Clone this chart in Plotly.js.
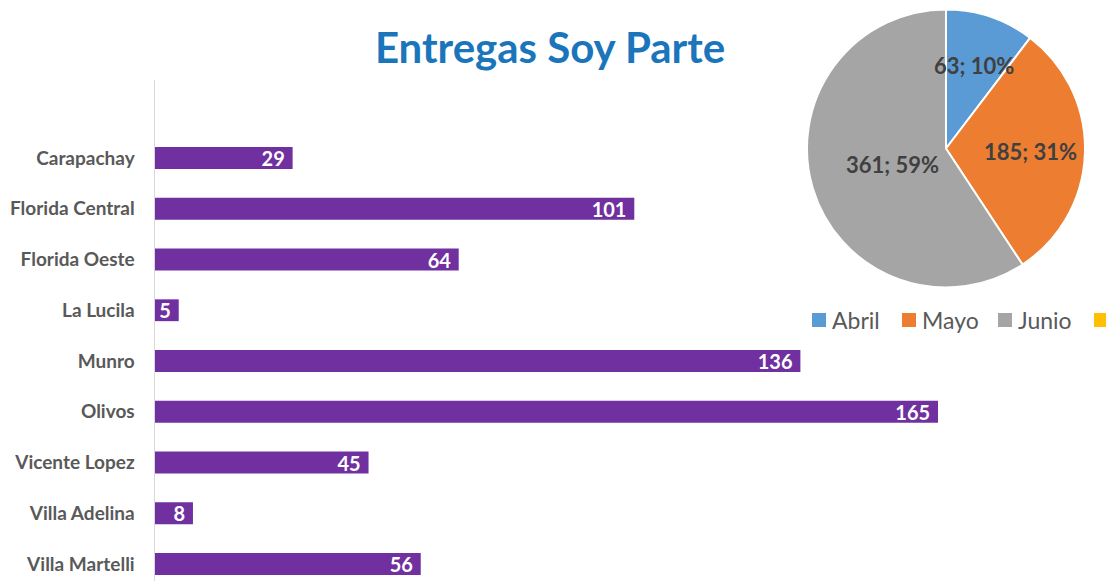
<!DOCTYPE html>
<html>
<head>
<meta charset="utf-8">
<script src="https://cdn.plot.ly/plotly-3.0.1.min.js"></script>
<style>html,body{margin:0;padding:0;background:#fff;}#chart{width:1106px;height:581px;}</style>
</head>
<body>
<div id="chart"></div>
<script>
// ---- data ----
const categories = ["Carapachay","Florida Central","Florida Oeste","La Lucila","Munro","Olivos","Vicente Lopez","Villa Adelina","Villa Martelli"];
const entregas = [29, 101, 64, 5, 136, 165, 45, 8, 56];
const months = ["Abril","Mayo","Junio"];
const monthValues = [63, 185, 361];
const monthPctLabels = ["10%","31%","59%"];

// ---- styles ----
const W = 1106, H = 581;
const barColor = "#7030A0";
const pieColors = ["#5B9BD5","#ED7D31","#A5A5A5"];
const extraLegendColor = "#FFC000";
const pieBox = {x0: 807, x1: 1085, y0: 9, y1: 288};
const labelRadiusFrac = [0.63, 0.61, 0.40];
const legendX = [812, 902, 998, 1094];
const legendY = 320;

const bar = {
  type: "bar",
  orientation: "h",
  y: categories,
  x: entregas,
  marker: {color: barColor},
  text: entregas.map(v => String(v)),
  texttemplate: "%{text}\u00a0",
  textposition: "inside",
  insidetextanchor: "end",
  textangle: 0,
  textfont: {family: "Lato, sans-serif", size: 20, color: "#ffffff", weight: "bold"},
  constraintext: "none",
  cliponaxis: false,
  showlegend: false,
  hoverinfo: "x+y"
};

const pie = {
  type: "pie",
  labels: months,
  values: monthValues,
  sort: false,
  direction: "clockwise",
  rotation: 0,
  marker: {colors: pieColors, line: {color: "#ffffff", width: 2}},
  textinfo: "none",
  showlegend: false,
  domain: {x: [pieBox.x0 / W, pieBox.x1 / W], y: [1 - pieBox.y1 / H, 1 - pieBox.y0 / H]}
};

const annotations = [];
const shapes = [];

// pie labels, placed from data angles
const total = monthValues.reduce((a, b) => a + b, 0);
const cx = (pieBox.x0 + pieBox.x1) / 2, cy = (pieBox.y0 + pieBox.y1) / 2, R = (pieBox.x1 - pieBox.x0) / 2;
let cum = 0;
monthValues.forEach((v, i) => {
  const mid = (cum + v / 2) / total * 2 * Math.PI;
  cum += v;
  const px = cx + R * labelRadiusFrac[i] * Math.sin(mid);
  const py = cy - R * labelRadiusFrac[i] * Math.cos(mid);
  annotations.push({
    xref: "paper", yref: "paper", x: px / W, y: 1 - py / H,
    xanchor: "center", yanchor: "middle", showarrow: false,
    text: v + "; " + monthPctLabels[i],
    font: {family: "Lato, sans-serif", size: 22, color: "#404040", weight: "bold"}
  });
});

// legend
const legendColors = pieColors.concat([extraLegendColor]);
legendColors.forEach((c, i) => {
  shapes.push({type: "rect", xref: "paper", yref: "paper",
    x0: legendX[i] / W, x1: (legendX[i] + 14) / W,
    y0: 1 - (legendY + 7) / H, y1: 1 - (legendY - 7) / H,
    fillcolor: c, line: {width: 0}});
  if (i < months.length) {
    annotations.push({xref: "paper", yref: "paper", x: (legendX[i] + 18) / W, y: 1 - legendY / H,
      xanchor: "left", yanchor: "middle", showarrow: false, text: months[i],
      font: {family: "Lato, sans-serif", size: 23, color: "#595959"}});
  }
});

const layout = {
  width: W, height: H,
  margin: {l: 0, r: 0, t: 0, b: 0},
  paper_bgcolor: "#ffffff", plot_bgcolor: "#ffffff",
  title: {text: "Entregas Soy Parte", x: 550 / W, y: 1 - 48 / H, xref: "paper", yref: "paper",
    xanchor: "center", yanchor: "middle",
    font: {family: "Lato, sans-serif", size: 42, color: "#1B75BB", weight: "bold"}},
  bargap: 0.57,
  xaxis: {domain: [155 / W, 1], range: [0, 200.4], showticklabels: false, showgrid: false,
    zeroline: false, showline: false, ticks: "", fixedrange: true},
  yaxis: {domain: [0, 1 - 80 / H], range: [8.335, -1.537], showgrid: false, zeroline: false,
    showline: true, linecolor: "#D9D9D9", linewidth: 1.5, ticks: "", ticklabelstandoff: 15,
    automargin: false,
    tickfont: {family: "Lato, sans-serif", size: 19, color: "#595959", weight: "bold"}},
  annotations: annotations,
  shapes: shapes
};

Plotly.newPlot("chart", [bar, pie], layout, {displayModeBar: false, staticPlot: true});
</script>
</body>
</html>
